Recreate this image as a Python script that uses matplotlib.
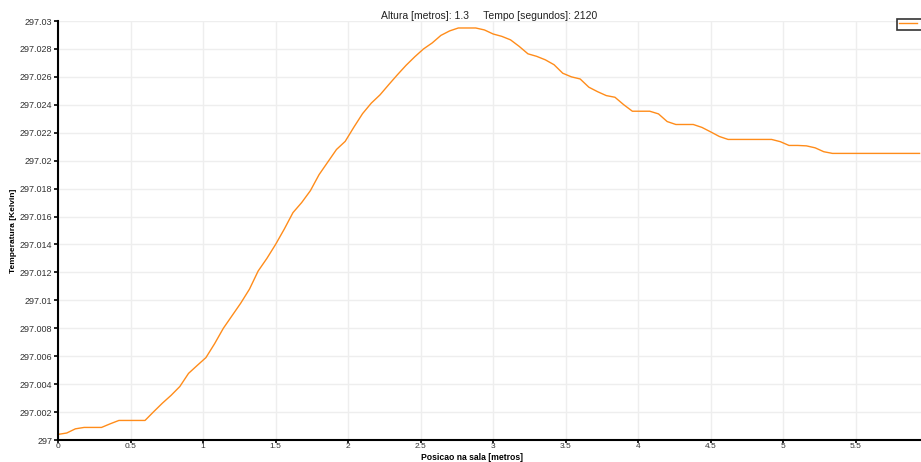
import matplotlib
matplotlib.use("Agg")
import matplotlib.pyplot as plt
from matplotlib.ticker import FormatStrFormatter, MultipleLocator

plt.rcParams['font.family'] = ['Liberation Sans', 'DejaVu Sans']

# Posicao na sala [metros], passo de 0.06 m
posicao = [round(0.06 * i, 2) for i in range(100)]

# Temperatura [Kelvin]
temperatura = [
    297.0004, 297.0005, 297.0008, 297.0009, 297.0009, 297.0009, 297.00116, 297.0014, 297.0014, 297.0014,
    297.0014, 297.00203, 297.00264, 297.0032, 297.00383, 297.00477, 297.00534, 297.0059, 297.0069, 297.0080,
    297.0089, 297.0098, 297.0108, 297.0121, 297.0130, 297.0140, 297.0151, 297.01628, 297.0170, 297.01785,
    297.0190, 297.0199, 297.0208, 297.02138, 297.0224, 297.02337, 297.02412, 297.02471, 297.02544, 297.02615,
    297.02683, 297.02744, 297.0280, 297.02843, 297.02897, 297.02929, 297.0295, 297.0295, 297.0295, 297.02936,
    297.02907, 297.0289, 297.02865, 297.02818, 297.02765, 297.02747, 297.02722, 297.02687, 297.02626, 297.0260,
    297.02585, 297.02526, 297.02494, 297.02466, 297.02454, 297.02401, 297.02354, 297.02354, 297.02354, 297.02335,
    297.0228, 297.02259, 297.02259, 297.02259, 297.02238, 297.02206, 297.02173, 297.02152, 297.02152, 297.02152,
    297.02152, 297.02152, 297.02152, 297.02136, 297.02109, 297.02109, 297.02106, 297.02092, 297.02064, 297.02052,
    297.02052, 297.02052, 297.02052, 297.02052, 297.02052, 297.02052, 297.02052, 297.02052, 297.02052, 297.02052,
]

titulo = "Altura [metros]: 1.3     Tempo [segundos]: 2120"

fig = plt.figure(figsize=(9.21, 4.62), dpi=100)
ax = fig.add_axes([58 / 921, 22 / 462, 1 - 58 / 921, 419 / 462])

ax.plot(posicao, temperatura, color="#ff8c1a", linewidth=1.0, label="T")

ax.set_xlim(0, 5.95)
ax.set_ylim(297.0, 297.03)
ax.xaxis.set_major_locator(MultipleLocator(0.5))
ax.yaxis.set_major_locator(MultipleLocator(0.002))
ax.xaxis.set_major_formatter(FormatStrFormatter('%g'))
ax.yaxis.set_major_formatter(FormatStrFormatter('%g'))

ax.grid(True, color="#eeeeee", linewidth=1.0)
ax.set_axisbelow(True)
for lado in ["top", "right"]:
    ax.spines[lado].set_visible(False)
for lado in ["left", "bottom"]:
    ax.spines[lado].set_linewidth(1.5)
    ax.spines[lado].set_color("black")
ax.tick_params(axis="both", direction="out", length=3, width=1.2, labelsize=6.5,
               labelcolor="#333333", pad=1)
ax.tick_params(axis="x", length=2, pad=0, labelsize=6)

ax.set_title(titulo, fontsize=7.5, pad=0.5, color="#222222")
ax.set_ylabel("Temperatura [Kelvin]", fontsize=6, fontweight="bold", labelpad=2)
fig.text(472 / 921, 0.2 / 462, "Posicao na sala [metros]", fontsize=6.2, fontweight="bold",
         ha="center", va="bottom")

leg = ax.legend(loc="upper left", bbox_to_anchor=(0.972, 1.005), fontsize=6,
                frameon=True, fancybox=False, handlelength=2.2, borderpad=0.2,
                borderaxespad=0)
leg.get_frame().set_edgecolor("black")
leg.get_frame().set_linewidth(1.2)

fig.savefig("out.png", dpi=100)
